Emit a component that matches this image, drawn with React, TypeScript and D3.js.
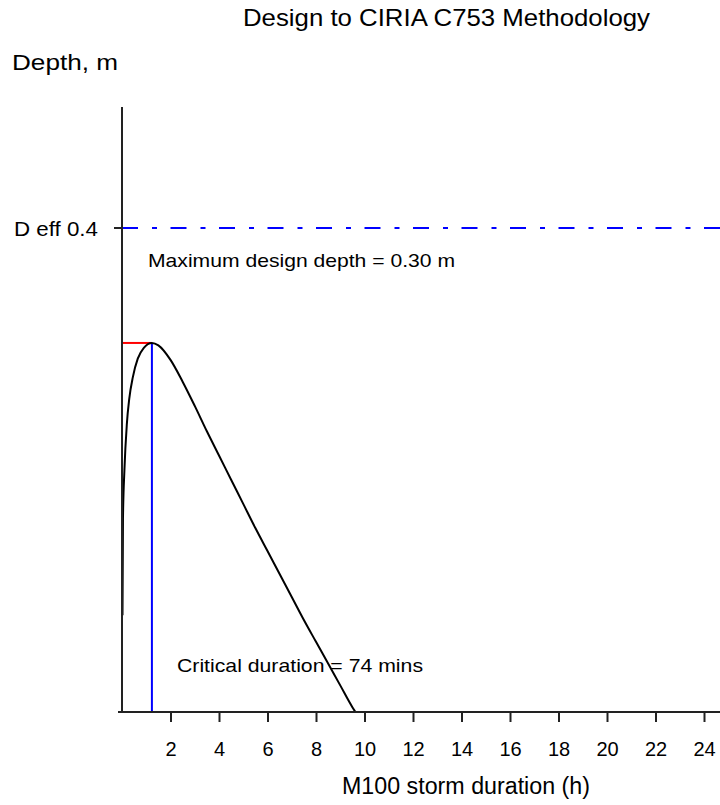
import React, { useEffect, useRef } from "react"
import * as d3 from "d3"

// storm duration (h) vs max water depth (m)
const durationsH = [0.02, 0.04, 0.1, 0.2, 0.3, 0.45, 0.65, 0.9, 1.233, 1.5, 2, 2.5, 3, 3.5, 4, 4.5, 5, 5.5, 6, 6.5, 7, 7.5, 8, 8.5, 9, 9.5, 9.61]
const depthsM = [0.08, 0.16, 0.2, 0.238, 0.259, 0.277, 0.292, 0.301, 0.305, 0.303, 0.291, 0.273, 0.253, 0.232, 0.212, 0.192, 0.172, 0.152, 0.133, 0.114, 0.095, 0.076, 0.058, 0.04, 0.022, 0.004, 0.0005]

const tickHours = [2, 4, 6, 8, 10, 12, 14, 16, 18, 20, 22, 24]
const deffDepth = 0.4
const criticalMins = 74
const peakDepth = 0.305

const titleText = "Design to CIRIA C753 Methodology"
const yLabel = "Depth,  m"
const xLabel = "M100 storm duration (h)"
const maxText = "Maximum design depth = 0.30 m"
const critText = "Critical duration = " + criticalMins + " mins"

const W = 720
const H = 805
const FONT = "'Liberation Sans', Arial, sans-serif"

export default function App() {
	const mount = useRef<SVGSVGElement | null>(null)

	useEffect(() => {
		const svg = d3.select(mount.current)
		svg.selectAll("*").remove()

		const x = d3.scaleLinear().domain([0, 24]).range([122, 704])
		const y = d3.scaleLinear().domain([0, 0.5]).range([712, 107])

		// title + axis titles
		svg.append("text").attr("x", 243).attr("y", 26).attr("font-size", 24).attr("textLength", 407).attr("lengthAdjust", "spacingAndGlyphs").text(titleText)
		svg.append("text").attr("x", 12).attr("y", 70).attr("font-size", 22).attr("textLength", 106).attr("lengthAdjust", "spacingAndGlyphs").text(yLabel)
		svg.append("text").attr("x", 342).attr("y", 794).attr("font-size", 23).attr("textLength", 248).attr("lengthAdjust", "spacingAndGlyphs").text(xLabel)

		// D eff line
		svg.append("line").attr("x1", x(0)).attr("x2", W).attr("y1", y(deffDepth)).attr("y2", y(deffDepth))
			.attr("stroke", "#0000ff").attr("stroke-width", 2).attr("stroke-dasharray", "16,14,5,13.5")
		svg.append("line").attr("x1", 114).attr("x2", x(0)).attr("y1", y(deffDepth)).attr("y2", y(deffDepth)).attr("stroke", "#222").attr("stroke-width", 2)
		svg.append("text").attr("x", 14).attr("y", y(deffDepth) + 8).attr("font-size", 21).attr("textLength", 84).attr("lengthAdjust", "spacingAndGlyphs").text("D eff " + deffDepth)

		svg.append("text").attr("x", 148).attr("y", 267).attr("font-size", 19).attr("textLength", 307).attr("lengthAdjust", "spacingAndGlyphs").text(maxText)

		// critical duration markers
		const critH = criticalMins / 60
		svg.append("line").attr("x1", x(0)).attr("x2", x(critH)).attr("y1", y(peakDepth)).attr("y2", y(peakDepth)).attr("stroke", "#ff0000").attr("stroke-width", 2)
		svg.append("line").attr("x1", x(critH)).attr("x2", x(critH)).attr("y1", y(peakDepth)).attr("y2", y(0)).attr("stroke", "#0000ff").attr("stroke-width", 2)

		svg.append("text").attr("x", 177).attr("y", 672).attr("font-size", 19).attr("textLength", 246).attr("lengthAdjust", "spacingAndGlyphs").text(critText)

		// depth curve
		const pts: [number, number][] = durationsH.map((d, i) => [d, depthsM[i]])
		const line = d3.line<[number, number]>().x(d => x(d[0])).y(d => y(d[1])).curve(d3.curveMonotoneX)
		svg.append("path").attr("d", line(pts)).attr("fill", "none").attr("stroke", "#000").attr("stroke-width", 2)

		// axes
		svg.append("line").attr("x1", x(0)).attr("x2", x(0)).attr("y1", 107).attr("y2", 712).attr("stroke", "#222").attr("stroke-width", 2)
		svg.append("line").attr("x1", 118).attr("x2", W).attr("y1", 712).attr("y2", 712).attr("stroke", "#222").attr("stroke-width", 2)

		const xAxis = d3.axisBottom(x).tickValues(tickHours).tickSize(10).tickSizeOuter(0).tickPadding(20).tickFormat(d => String(d))
		const g = svg.append("g").attr("transform", "translate(0,712)").call(xAxis)
		g.select(".domain").remove()
		g.selectAll(".tick line").attr("stroke", "#222").attr("stroke-width", 2)
		g.selectAll(".tick text").attr("font-size", 20).attr("font-family", FONT).attr("fill", "#000")
	}, [])

	return (
		<div style={{ position: "absolute", left: 0, top: 0 }}>
			<svg ref={mount} width={W} height={H} style={{ display: "block", fontFamily: FONT, background: "#fff" }} fill="#000"></svg>
		</div>
	)
}
